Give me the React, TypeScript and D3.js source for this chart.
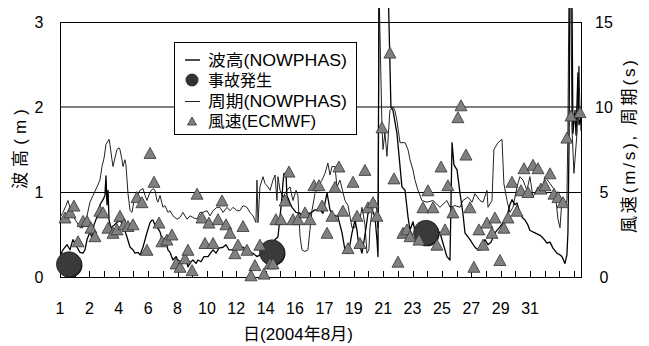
import React from "react";
import * as d3 from "d3";

// x positions are in axis-tick units (0 = left edge, one unit per minor tick)
const xTickLabels = ["1", "2", "4", "6", "8", "10", "12", "14", "16", "17", "19", "21", "23", "25", "27", "29", "31"];
const leftTicks = [0, 1, 2, 3];
const rightTicks = [0, 5, 10, 15];

// 波高 (m), NOWPHAS
const waveHeight: [number, number][] = [
  [0, 0.24], [0.2, 0.32], [0.48, 0.38], [0.68, 0.32], [0.88, 0.44], [1.16, 0.35], [1.36, 0.29], [1.57, 0.28],
  [1.7, 0.32], [1.84, 0.44], [2.04, 0.53], [2.18, 0.46], [2.31, 0.61], [2.52, 0.71], [2.72, 0.85], [2.93, 0.91],
  [3.06, 0.96], [3.13, 1.19], [3.2, 0.85], [3.27, 1.02], [3.34, 0.67], [3.47, 0.58], [3.68, 0.61], [3.88, 0.64],
  [4.08, 0.67], [4.29, 0.61], [4.56, 0.47], [4.77, 0.35], [4.97, 0.32], [5.1, 0.28], [5.31, 0.29], [5.45, 0.26],
  [5.58, 0.32], [5.65, 0.35], [5.79, 0.44], [5.92, 0.52], [6.13, 0.64], [6.26, 0.67], [6.33, 0.67], [6.47, 0.61],
  [6.6, 0.59], [6.81, 0.53], [7.01, 0.4], [7.15, 0.46], [7.35, 0.32], [7.49, 0.29], [7.69, 0.2], [7.9, 0.24],
  [8.03, 0.2], [8.24, 0.18], [8.37, 0.16], [8.58, 0.2], [8.71, 0.12], [8.92, 0.18], [9.05, 0.2], [9.26, 0.16],
  [9.39, 0.2], [9.6, 0.18], [9.8, 0.24], [10.08, 0.24], [10.28, 0.29], [10.42, 0.32], [10.62, 0.28], [10.82, 0.34],
  [11.1, 0.35], [11.3, 0.38], [11.5, 0.32], [11.78, 0.32], [11.98, 0.35], [12.25, 0.34], [12.46, 0.35], [12.73, 0.32],
  [12.93, 0.28], [13.14, 0.28], [13.41, 0.24], [13.61, 0.26], [13.89, 0.32], [14.3, 0.38], [14.64, 0.44], [14.84, 0.47],
  [14.98, 0.71], [15.11, 0.94], [15.18, 1.11], [15.25, 1.22], [15.39, 1.2], [15.45, 0.96], [15.66, 0.87], [15.79, 0.82],
  [16.07, 0.76], [16.34, 0.75], [16.47, 0.71], [16.75, 0.75], [17.02, 0.75], [17.36, 0.79], [17.7, 0.79], [17.9, 0.75],
  [18.18, 0.99], [18.38, 0.79], [18.58, 0.73], [18.92, 0.71], [19.2, 0.52], [19.4, 0.32], [19.61, 0.28], [19.74, 0.38],
  [19.88, 0.52], [20.08, 0.67], [20.22, 0.55], [20.29, 0.44], [20.56, 0.28], [20.76, 0.49], [20.97, 0.75], [21.24, 0.79],
  [21.44, 0.71], [21.58, 0.44], [21.65, 0.24], [21.72, 3.5], [22.33, 3.5], [22.53, 2.0], [22.67, 1.96], [22.94, 1.69],
  [23.28, 1.06], [23.49, 1.02], [23.69, 0.71], [23.83, 0.55], [24.03, 0.65], [24.3, 0.44], [24.64, 0.52], [25.19, 0.49],
  [25.66, 0.55], [25.87, 0.52], [26.07, 0.4], [26.34, 0.24], [26.55, 0.2], [26.69, 1.58], [26.82, 1.32], [27.03, 1.26],
  [27.23, 0.99], [27.43, 0.75], [27.57, 0.52], [27.91, 0.44], [28.25, 0.35], [28.45, 0.32], [28.66, 0.32], [28.93, 0.44],
  [29.14, 0.38], [29.34, 0.41], [29.61, 0.52], [29.95, 0.59], [30.22, 0.65], [30.43, 0.71], [30.63, 0.85], [30.77, 0.91],
  [30.97, 0.85], [31.11, 0.87], [31.31, 0.75], [31.52, 0.69], [31.66, 0.67], [31.86, 0.61], [31.99, 0.55], [32.2, 0.53],
  [32.34, 0.52], [32.68, 0.49], [32.88, 0.46], [33.15, 0.4], [33.36, 0.41], [33.56, 0.34], [33.83, 0.28], [34.04, 0.26],
  [34.17, 0.24], [34.38, 0.16], [34.51, 0.26], [34.58, 0.52], [34.65, 1.49], [34.72, 3.5], [34.85, 3.5], [34.92, 1.69],
  [35.06, 1.96], [35.13, 1.67], [35.26, 2.4], [35.33, 1.79], [35.47, 1.87],
];

// 周期 (s), NOWPHAS
const wavePeriod: [number, number][] = [
  [0, 3.5], [0.2, 3.8], [0.41, 4.2], [0.54, 4.5], [0.68, 4.1], [0.88, 3.6], [1.16, 3.2], [1.36, 2.9],
  [1.57, 2.9], [1.84, 3.6], [2.04, 4.4], [2.25, 4.8], [2.52, 5.3], [2.72, 5.7], [2.86, 6.5], [3.0, 7.0],
  [3.13, 7.8], [3.2, 7.9], [3.34, 8.1], [3.4, 7.8], [3.54, 6.9], [3.61, 6.5], [3.74, 7.0], [3.88, 7.5],
  [4.02, 7.6], [4.08, 7.5], [4.22, 6.9], [4.29, 6.5], [4.42, 6.9], [4.49, 6.6], [4.63, 4.9], [4.77, 3.9],
  [4.9, 3.8], [5.04, 4.5], [5.1, 4.7], [5.24, 4.7], [5.45, 5.1], [5.65, 5.2], [5.79, 4.8], [5.92, 4.5],
  [6.13, 5.0], [6.33, 5.2], [6.47, 5.1], [6.6, 4.5], [6.67, 4.4], [6.81, 4.8], [7.01, 4.1], [7.15, 4.2],
  [7.35, 3.8], [7.49, 3.9], [7.69, 3.6], [7.96, 3.4], [8.17, 3.5], [8.37, 3.8], [8.65, 3.4], [8.85, 3.6],
  [9.05, 3.5], [9.33, 3.4], [9.53, 3.8], [9.73, 3.8], [10.01, 3.9], [10.21, 3.6], [10.42, 3.9], [10.69, 4.1],
  [10.89, 4.1], [11.1, 3.8], [11.37, 4.1], [11.57, 3.9], [11.78, 4.1], [12.05, 3.9], [12.25, 3.9], [12.46, 4.2],
  [12.73, 4.1], [12.93, 3.8], [13.14, 3.6], [13.34, 3.2], [13.41, 5.7], [13.48, 3.2], [13.61, 5.3], [13.82, 5.9],
  [13.96, 5.5], [14.16, 5.3], [14.3, 5.1], [14.5, 5.7], [14.64, 6.0], [14.77, 4.5], [14.84, 5.9], [14.98, 5.1],
  [15.18, 4.7], [15.45, 5.1], [15.66, 5.3], [15.86, 4.5], [16.07, 5.1], [16.2, 4.8], [16.34, 2.4], [16.47, 1.6],
  [16.68, 1.5], [16.88, 1.6], [17.02, 2.8], [17.15, 3.9], [17.36, 4.9], [17.56, 5.3], [17.84, 5.7], [18.04, 6.1],
  [18.24, 6.7], [18.38, 6.0], [18.52, 6.5], [18.72, 6.5], [18.86, 5.3], [19.06, 5.7], [19.4, 4.5], [19.61, 4.2],
  [19.88, 2.9], [20.08, 2.9], [20.22, 3.8], [20.42, 3.4], [20.56, 4.1], [20.76, 3.1], [20.9, 1.4], [21.03, 1.6],
  [21.1, 2.9], [21.24, 3.8], [21.44, 4.5], [21.58, 3.9], [21.65, 2.9], [21.72, 17], [21.78, 14.5], [21.92, 8.8],
  [21.99, 7.5], [22.12, 8.5], [22.26, 7.1], [22.46, 9.8], [22.67, 10.0], [22.8, 9.8], [22.94, 9.2], [23.15, 7.9],
  [23.49, 7.9], [23.69, 7.5], [23.83, 6.9], [24.03, 6.3], [24.17, 5.7], [24.37, 5.1], [24.64, 4.5], [24.98, 4.4],
  [25.39, 4.5], [25.87, 4.1], [26.34, 4.5], [26.55, 4.1], [26.89, 4.2], [27.23, 4.1], [27.43, 4.5], [27.77, 4.7],
  [28.05, 4.4], [28.25, 4.9], [28.59, 4.5], [28.8, 4.4], [29.07, 5.1], [29.14, 4.1], [29.41, 4.5], [29.54, 7.5],
  [29.82, 7.9], [30.09, 8.1], [30.22, 5.5], [30.43, 4.5], [30.63, 3.8], [30.84, 4.1], [31.11, 5.3], [31.31, 5.9],
  [31.52, 5.7], [31.79, 5.1], [31.99, 5.9], [32.2, 4.7], [32.54, 5.3], [32.81, 5.1], [33.02, 5.9], [33.36, 5.5],
  [33.7, 5.1], [33.9, 3.4], [34.04, 2.9], [34.17, 4.5], [34.38, 4.2], [34.51, 4.5], [34.58, 8.8], [34.65, 17],
  [34.79, 17], [34.85, 8.8], [34.99, 6.1], [35.06, 6.9], [35.2, 8.5], [35.33, 12.4], [35.4, 9.8], [35.47, 8.6],
];

// 風速 (m/s), ECMWF
const windSpeed: [number, number][] = [
  [0.34, 3.5], [0.68, 3.8], [0.95, 4.2], [1.23, 2.1], [1.57, 3.3], [1.84, 3.3], [2.11, 2.9], [2.38, 2.4],
  [2.72, 3.9], [2.93, 3.8], [3.27, 2.9], [3.61, 2.6], [3.88, 2.8], [4.08, 3.6], [4.36, 3.1], [4.63, 3.0],
  [4.97, 3.1], [5.24, 4.7], [5.58, 4.4], [5.92, 1.6], [6.13, 7.3], [6.4, 5.6], [6.74, 3.2], [6.94, 2.1],
  [7.28, 2.2], [7.62, 2.5], [7.9, 0.8], [8.17, 0.6], [8.51, 1.1], [8.71, 1.6], [8.99, 0.4], [9.33, 4.9],
  [9.67, 3.5], [9.87, 2.0], [10.14, 3.2], [10.42, 2.0], [10.76, 3.4], [11.03, 4.5], [11.3, 3.1], [11.57, 2.6],
  [11.91, 1.4], [12.12, 1.9], [12.46, 3.0], [12.73, 1.6], [13.0, 0.1], [13.27, 0.7], [13.61, 1.9], [13.89, 0.2],
  [14.3, 0.8], [14.5, 0.8], [14.7, 3.4], [15.04, 3.4], [15.32, 4.5], [15.59, 6.2], [15.86, 3.4], [16.2, 3.4],
  [16.68, 3.8], [17.02, 3.4], [17.29, 5.4], [17.63, 5.4], [17.84, 4.2], [18.18, 2.6], [18.52, 3.6], [18.72, 5.3],
  [18.99, 6.5], [19.26, 3.9], [19.61, 1.7], [19.95, 5.6], [20.22, 3.6], [20.42, 2.0], [20.76, 6.3], [20.97, 4.1],
  [21.31, 4.4], [21.58, 3.6], [21.92, 8.8], [22.46, 13.2], [22.74, 5.8], [23.01, 0.9], [23.35, 2.6], [23.62, 2.8],
  [23.83, 2.4], [24.44, 2.2], [24.71, 4.1], [25.05, 5.1], [25.39, 4.1], [25.66, 1.9], [25.94, 6.5], [26.21, 2.8],
  [26.41, 5.4], [26.75, 3.8], [27.09, 9.4], [27.3, 10.1], [27.64, 7.2], [27.91, 4.1], [28.18, 0.6], [28.52, 2.8],
  [28.8, 1.9], [29.07, 3.2], [29.41, 2.6], [29.61, 3.5], [29.95, 1.0], [30.22, 2.9], [30.5, 3.5], [30.77, 5.6],
  [31.11, 3.9], [31.38, 5.1], [31.59, 6.4], [31.86, 5.0], [32.2, 6.6], [32.54, 6.4], [32.74, 5.2], [33.02, 5.4],
  [33.36, 6.1], [33.63, 4.9], [33.9, 4.7], [34.24, 4.4], [34.51, 8.2], [34.79, 9.5], [35.4, 9.7],
];

// 事故発生 (wave height at the time of the accident, m)
const accidents: [number, number][] = [
  [0.61, 0.15], [14.43, 0.29], [24.92, 0.52],
];

const legendItems = [
  { label: "波高(NOWPHAS)", kind: "thick", width: 139 },
  { label: "事故発生", kind: "circle", width: 64 },
  { label: "周期(NOWPHAS)", kind: "thin", width: 139 },
  { label: "風速(ECMWF)", kind: "triangle", width: 108 },
];

const W = 649;
const H = 346;
const left = 60;
const right = 581;
const top = 22;
const bottom = 277;
const font = "'Liberation Sans', 'Noto Sans CJK JP', sans-serif";

const tri = (w: number, h: number) => `M0,${-h / 2}L${w / 2},${h / 2}L${-w / 2},${h / 2}Z`;

export default function App() {
  const x = d3.scaleLinear().domain([0, 35.47]).range([left, right]);
  const yL = d3.scaleLinear().domain([0, 3]).range([bottom, top]);
  const yR = d3.scaleLinear().domain([0, 15]).range([bottom, top]);

  const heightLine = d3.line<[number, number]>().x((d) => x(d[0])).y((d) => yL(d[1]));
  const periodLine = d3.line<[number, number]>().x((d) => x(d[0])).y((d) => yR(d[1]));

  const minorTicks = d3.range(1, 36);
  const legendRows = [60, 80, 101, 121];

  return (
    <svg width={W} height={H} style={{ position: "absolute", left: 0, top: 0, background: "#fff" }}>
      <defs>
        <clipPath id="plot-clip">
          <rect x={left} y={8} width={right - left} height={bottom - 8} />
        </clipPath>
      </defs>

      {/* gridlines */}
      <line x1={left} x2={right} y1={yL(1) + 0.5} y2={yL(1) + 0.5} stroke="#000" strokeWidth={1} />
      <line x1={left} x2={right} y1={yL(2)} y2={yL(2)} stroke="#555" strokeWidth={1.5} />

      {/* frame */}
      <rect x={left + 0.5} y={top + 0.5} width={right - left} height={bottom - top} fill="none" stroke="#000" />

      {/* minor ticks on the x axis */}
      {minorTicks.map((t) => (
        <line key={t} x1={Math.round(x(t)) + 0.5} x2={Math.round(x(t)) + 0.5} y1={bottom} y2={bottom - 6} stroke="#000" />
      ))}

      {/* series lines */}
      <g clipPath="url(#plot-clip)" fill="none" strokeLinejoin="round">
        <path d={periodLine(wavePeriod) ?? ""} stroke="#222" strokeWidth={1} />
        <path d={heightLine(waveHeight) ?? ""} stroke="#000" strokeWidth={1.3} />
      </g>

      {/* accidents */}
      {accidents.map((d, i) => (
        <g key={i}>
          <circle cx={x(d[0]) + 1} cy={yL(d[1]) + 1} r={12.5} fill="#111" />
          <circle cx={x(d[0])} cy={yL(d[1])} r={12.5} fill="#3a3a3a" stroke="#222" strokeWidth={0.8} />
        </g>
      ))}

      {/* wind speed */}
      {windSpeed.map((d, i) => (
        <path key={i} d={tri(12, 11)} transform={`translate(${x(d[0])},${yR(d[1])})`} fill="#808080" stroke="#333" strokeWidth={0.8} />
      ))}

      {/* left axis labels */}
      {leftTicks.map((v) => (
        <text key={v} x={39} y={yL(v)} textAnchor="middle" dominantBaseline="central" fontFamily={font} fontSize={16}>
          {v}
        </text>
      ))}
      {/* right axis labels */}
      {rightTicks.map((v) => (
        <text key={v} x={604} y={yR(v)} textAnchor="middle" dominantBaseline="central" fontFamily={font} fontSize={16}>
          {v}
        </text>
      ))}
      {/* x axis labels */}
      {xTickLabels.map((lab, i) => (
        <text key={i} x={x(i * 2)} y={308} textAnchor="middle" dominantBaseline="central" fontFamily={font} fontSize={16}>
          {lab}
        </text>
      ))}

      {/* axis titles */}
      <text transform="translate(20.5,149) rotate(-90)" textAnchor="middle" dominantBaseline="central"
        fontFamily={font} fontSize={17} textLength={80} lengthAdjust="spacing">
        波高(m)
      </text>
      <text transform="translate(629.5,146.5) rotate(-90)" textAnchor="middle" dominantBaseline="central"
        fontFamily={font} fontSize={17} textLength={173} lengthAdjust="spacing">
        風速(m/s), 周期(s)
      </text>
      <text x={298} y={334.5} textAnchor="middle" dominantBaseline="central"
        fontFamily={font} fontSize={17} textLength={110} lengthAdjust="spacing">
        日(2004年8月)
      </text>

      {/* legend */}
      <rect x={174.5} y={42.5} width={182} height={92} fill="#fff" stroke="#000" />
      {legendItems.map((item, i) => {
        const cy = legendRows[i];
        return (
          <g key={item.label}>
            {item.kind === "thick" && <line x1={185} x2={200} y1={cy} y2={cy} stroke="#000" strokeWidth={1.4} />}
            {item.kind === "thin" && <line x1={185} x2={200} y1={cy + 0.5} y2={cy + 0.5} stroke="#222" strokeWidth={1} />}
            {item.kind === "circle" && <circle cx={192} cy={cy} r={6.5} fill="#333" />}
            {item.kind === "triangle" && (
              <path d={tri(9, 8)} transform={`translate(192,${cy})`} fill="#808080" stroke="#333" strokeWidth={0.8} />
            )}
            <text x={208} y={cy} dominantBaseline="central" fontFamily={font} fontSize={16}
              textLength={item.width} lengthAdjust="spacingAndGlyphs">
              {item.label}
            </text>
          </g>
        );
      })}
    </svg>
  );
}
